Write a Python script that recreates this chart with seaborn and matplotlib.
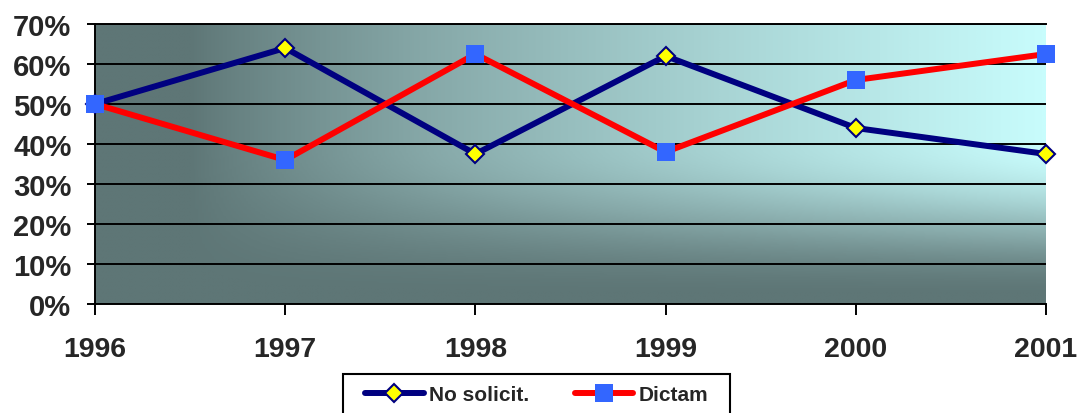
import numpy as np
import pandas as pd
import matplotlib
matplotlib.use("Agg")
import matplotlib.pyplot as plt
from matplotlib.colors import LinearSegmentedColormap
from matplotlib.patches import Rectangle
from matplotlib.ticker import FuncFormatter, MultipleLocator
import seaborn as sns

years = ["1996", "1997", "1998", "1999", "2000", "2001"]
no_solicit = [50, 64, 37.5, 62, 44, 37.5]
dictam = [50, 36, 62.5, 38, 56, 62.5]
series_names = ["No solicit.", "Dictam"]

sns.set_style("white")
plt.rcParams["font.family"] = ["Liberation Sans", "DejaVu Sans"]
plt.rcParams["font.weight"] = "bold"

fig = plt.figure(figsize=(10.77, 4.14), dpi=100)
ax = fig.add_axes([95 / 1077, 1 - 305 / 414, (1046 - 95) / 1077, 280 / 414])

# gradient background
nx, ny = 400, 200
xs = np.linspace(0, 1, nx)
vs = np.linspace(1, 0, ny)  # 1 at top
X, V = np.meshgrid(xs, vs)
fx = np.clip((X - 0.1) / 0.9, 0, 1) ** 0.85
s = np.clip((V - 0.02) / 0.55, 0, 1)
fv = s * s * (3 - 2 * s)
T = np.clip(fx * fv, 0, 1)
cmap = LinearSegmentedColormap.from_list("bg", ["#5e7676", "#86a8a8", "#a8d4d4", "#c8fcfc"])
ax.imshow(T, cmap=cmap, extent=[0, 5, 0, 70], aspect="auto", origin="upper",
          zorder=0, vmin=0, vmax=1, interpolation="bilinear")

pos = np.arange(len(years))
df = pd.DataFrame({"pos": pos, "ns": no_solicit, "d": dictam})

sns.lineplot(data=df, x="pos", y="ns", ax=ax, color="#000080", lw=4.3,
             marker="D", markersize=9.5, markerfacecolor="#ffff00",
             markeredgecolor="#000080", markeredgewidth=1.5,
             label=series_names[0], zorder=3, clip_on=False, legend=False)
sns.lineplot(data=df, x="pos", y="d", ax=ax, color="#ff0000", lw=4.3,
             marker="s", markersize=12.5, markerfacecolor="#3366ff",
             markeredgecolor="#3366ff", markeredgewidth=0,
             label=series_names[1], zorder=4, clip_on=False, legend=False)

ax.set_xlim(0, 5)
ax.set_ylim(0, 70)
ax.set_xticks(pos)
ax.set_xticklabels(years)
ax.yaxis.set_major_locator(MultipleLocator(10))
ax.yaxis.set_major_formatter(FuncFormatter(lambda v, p: f"{int(round(v))}%"))
ax.set_xlabel("")
ax.set_ylabel("")

ax.yaxis.grid(True, color="black", lw=1.4, zorder=1)
ax.xaxis.grid(False)
ax.set_axisbelow(False)
ax.spines["right"].set_visible(False)
for sp in ["left", "bottom", "top"]:
    ax.spines[sp].set_color("black")
    ax.spines[sp].set_linewidth(1.4)

ax.tick_params(axis="y", direction="out", length=6, width=1.4, color="black",
               pad=11, labelsize=21, left=True)
ax.tick_params(axis="x", direction="out", length=8, width=1.4, color="black",
               pad=15, labelsize=20.5, bottom=True)
for lab in ax.get_xticklabels() + ax.get_yticklabels():
    lab.set_fontweight("bold")

# legend box
fig.patches.append(Rectangle((343 / 1077, 1 - 420 / 414), (730 - 343) / 1077, 45 / 414,
                             transform=fig.transFigure, facecolor="white",
                             edgecolor="black", lw=1.5, zorder=5))
handles, labels = ax.get_legend_handles_labels()
leg = fig.legend(handles, labels, loc="center", bbox_to_anchor=(536.5 / 1077, 1 - 396 / 414),
                 ncol=2, frameon=False, handlelength=2.8,
                 handletextpad=0.25, columnspacing=2.2, prop={"weight": "bold", "size": 15})
leg.set_zorder(6)

fig.savefig("out.png", dpi=100)
